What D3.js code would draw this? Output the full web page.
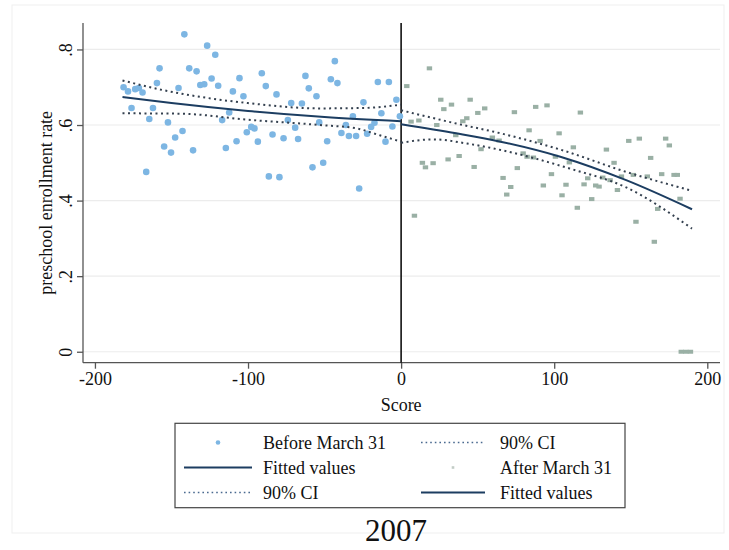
<!DOCTYPE html>
<html><head><meta charset="utf-8">
<script src="https://cdnjs.cloudflare.com/ajax/libs/d3/7.8.5/d3.min.js"></script>
<style>
html,body{margin:0;padding:0;background:#fff;}
svg{display:block;font-family:"Liberation Serif","Times New Roman",serif;}
</style></head>
<body><svg id="chart" width="729" height="550"></svg>
<script>
const beforeX = [-181.3,-178.4,-173.7,-171.3,-168.9,-176.1,-162.1,-164.5,-166.5,-159.5,-157.8,-154.8,-152.3,-150.3,-147.6,-145.4,-142.8,-141.6,-138.4,-135.9,-133.6,-131.2,-128.6,-126.7,-123.8,-121.4,-119.5,-116.9,-114.5,-112.3,-109.9,-107.5,-105.6,-103.0,-100.8,-97.9,-95.8,-93.6,-91.0,-88.4,-86.4,-84.0,-81.4,-79.5,-76.8,-74.0,-71.8,-69.2,-67.3,-64.8,-62.5,-60.3,-57.9,-55.3,-53.5,-50.9,-48.3,-45.9,-43.3,-41.6,-39.0,-36.1,-34.1,-31.5,-29.4,-27.4,-24.6,-22.2,-19.6,-17.4,-15.2,-12.9,-10.2,-8.0,-5.7,-3.1,-0.8];
const beforeY = [0.700,0.689,0.695,0.698,0.686,0.645,0.645,0.616,0.476,0.711,0.750,0.543,0.607,0.527,0.567,0.698,0.584,0.840,0.750,0.533,0.742,0.706,0.708,0.810,0.723,0.786,0.704,0.613,0.539,0.633,0.689,0.557,0.724,0.676,0.581,0.595,0.591,0.556,0.737,0.703,0.464,0.575,0.681,0.462,0.565,0.613,0.658,0.593,0.563,0.657,0.730,0.697,0.488,0.676,0.607,0.500,0.557,0.721,0.769,0.711,0.579,0.600,0.571,0.623,0.571,0.432,0.660,0.577,0.595,0.606,0.714,0.631,0.556,0.714,0.596,0.667,0.623];

const afterX = [3.7,6.5,8.7,11.6,13.9,15.9,18.5,20.9,23.3,25.9,27.9,30.7,32.9,35.7,37.9,40.3,42.9,45.1,47.7,50.1,52.2,54.6,59.6,64.0,66.6,69.0,71.6,74.0,75.9,79.7,82.3,83.6,86.4,87.9,90.8,92.9,95.3,98.2,100.8,103.2,105.1,107.7,109.9,112.5,115.1,117.1,119.5,121.9,124.5,127.1,129.3,131.7,134.1,136.5,139.1,141.3,143.9,148.7,151.7,153.4,155.6,160.8,163.0,165.4,167.6,170.2,172.8,175.2,178.3,180.4,182.2,183.0,186.0,189.0];
const afterY = [0.703,0.609,0.360,0.612,0.500,0.488,0.750,0.499,0.600,0.667,0.642,0.509,0.654,0.573,0.518,0.610,0.618,0.667,0.489,0.632,0.536,0.644,0.567,0.559,0.460,0.416,0.436,0.634,0.486,0.525,0.516,0.586,0.514,0.648,0.558,0.440,0.652,0.470,0.516,0.578,0.414,0.442,0.501,0.541,0.381,0.633,0.443,0.459,0.404,0.440,0.437,0.461,0.535,0.454,0.500,0.428,0.464,0.558,0.468,0.344,0.564,0.464,0.513,0.291,0.378,0.470,0.564,0.546,0.468,0.468,0.405,0.000,0.000,0.000];

const fitLeftX  = [-182,-150,-100,-50,0];
const fitLeftY  = [0.674,0.658,0.637,0.621,0.610];
const ciLeftUpX = [-182,-155,-122,-100,-53,-25,0];
const ciLeftUpY = [0.718,0.692,0.669,0.658,0.644,0.645,0.654];
const ciLeftLoX = [-182,-144,-100,-53,-29,-14,0];
const ciLeftLoY = [0.631,0.630,0.614,0.600,0.591,0.573,0.556];

const fitRightX  = [0,36,65,104,147,190];
const fitRightY  = [0.602,0.578,0.556,0.516,0.454,0.377];
const ciRightUpX = [0,36,65,104,147,190];
const ciRightUpY = [0.639,0.604,0.578,0.535,0.476,0.426];
const ciRightLoX = [0,21,43,65,110,147,190];
const ciRightLoY = [0.553,0.562,0.551,0.534,0.485,0.435,0.326];

const xTicks = [-200,-100,0,100,200];
const xTickLabels = ["-200","-100","0","100","200"];
const yTicks = [0,0.2,0.4,0.6,0.8];
const yTickLabels = ["0",".2",".4",".6",".8"];

const svg = d3.select("#chart");
const L = 83, R = 720, T = 23, B = 362.7;
const x = d3.scaleLinear().domain([-207.8, 208.3]).range([L, R]);
const y = d3.scaleLinear().domain([-0.029, 0.870]).range([B, T]);

const navy = "#1c3d61", dotCol = "#34404f", blue = "#7db6e3", green = "#9ab0a5";

// outer faint frame
svg.append("rect").attr("x",12).attr("y",5).attr("width",712).attr("height",528)
  .attr("fill","none").attr("stroke","#efefef").attr("stroke-width",1);

// gridlines
svg.append("g").selectAll("line").data(yTicks).join("line")
  .attr("x1",L).attr("x2",R).attr("y1",d=>y(d)).attr("y2",d=>y(d))
  .attr("stroke","#ececec").attr("stroke-width",1.2);

// axes
const xAxis = d3.axisBottom(x).tickValues(xTicks).tickSize(6).tickPadding(4).tickFormat((d,i)=>xTickLabels[i]);
const gx = svg.append("g").attr("transform",`translate(0,${B})`).call(xAxis);
gx.select(".domain").attr("stroke","#555").attr("stroke-width",1.3).attr("d",`M${L},0H${R}`);
gx.selectAll(".tick line").attr("stroke","#555").attr("stroke-width",1.3);
gx.selectAll("text").attr("font-size",18).attr("fill","#111").attr("font-family","Liberation Serif, serif");

const yAxis = d3.axisLeft(y).tickValues(yTicks).tickSize(6).tickFormat((d,i)=>yTickLabels[i]);
const gy = svg.append("g").attr("transform",`translate(${L},0)`).call(yAxis);
gy.select(".domain").attr("stroke","#555").attr("stroke-width",1.3).attr("d",`M0,${T}V${B}`);
gy.selectAll(".tick line").attr("stroke","#555").attr("stroke-width",1.3);
gy.selectAll("text").attr("font-size",18).attr("fill","#111").attr("font-family","Liberation Serif, serif")
  .attr("transform","rotate(-90)").attr("x",0).attr("y",-11).attr("dy",0).attr("text-anchor","middle");

svg.append("text").attr("transform",`translate(52,${(T+B)/2 + 10}) rotate(-90)`)
  .attr("text-anchor","middle").attr("font-size",18).attr("fill","#111")
  .text("preschool enrollment rate");
svg.append("text").attr("x",x(0)).attr("y",411).attr("text-anchor","middle")
  .attr("font-size",18).attr("fill","#111").text("Score");

// zero line
svg.append("line").attr("x1",x(0)).attr("x2",x(0)).attr("y1",T).attr("y2",B)
  .attr("stroke","#111").attr("stroke-width",1.6);

// points
svg.append("g").selectAll("circle").data(beforeX.map((d,i)=>[d,beforeY[i]])).join("circle")
  .attr("cx",d=>x(d[0])).attr("cy",d=>y(d[1])).attr("r",3.3).attr("fill",blue);
svg.append("g").selectAll("rect").data(afterX.map((d,i)=>[d,afterY[i]])).join("rect")
  .attr("x",d=>x(d[0])-2.7).attr("y",d=>y(d[1])-2).attr("width",5.4).attr("height",4)
  .attr("fill",green);

// fits
const line = d3.line().x(d=>x(d[0])).y(d=>y(d[1])).curve(d3.curveMonotoneX);
function drawLine(xs, ys, dotted){
  svg.append("path").datum(xs.map((d,i)=>[d,ys[i]])).attr("d",line).attr("fill","none")
    .attr("stroke", dotted?dotCol:navy).attr("stroke-width", 2)
    .attr("stroke-dasharray", dotted?"2,3.5":null);
}
drawLine(ciLeftUpX, ciLeftUpY, true);
drawLine(ciLeftLoX, ciLeftLoY, true);
drawLine(fitLeftX, fitLeftY, false);
drawLine(ciRightUpX, ciRightUpY, true);
drawLine(ciRightLoX, ciRightLoY, true);
drawLine(fitRightX, fitRightY, false);

// legend
const lg = svg.append("g");
lg.append("rect").attr("x",175).attr("y",423.3).attr("width",450).attr("height",84.4)
  .attr("fill","#fff").attr("stroke","#444").attr("stroke-width",1.2);
const rows = [442.5, 467.5, 492.5];
const items = [
  {col:0,row:0,type:"dot",label:"Before March 31"},
  {col:1,row:0,type:"dash",label:"90% CI"},
  {col:0,row:1,type:"line",label:"Fitted values"},
  {col:1,row:1,type:"sq",label:"After March 31"},
  {col:0,row:2,type:"dash",label:"90% CI"},
  {col:1,row:2,type:"line",label:"Fitted values"}
];
const cols = [{s0:184,s1:252,t:263},{s0:421,s1:485,t:500}];
items.forEach(it=>{
  const c = cols[it.col], yy = rows[it.row];
  if(it.type==="dot") lg.append("circle").attr("cx",(c.s0+c.s1)/2).attr("cy",yy).attr("r",2.3).attr("fill",blue);
  if(it.type==="sq") lg.append("rect").attr("x",(c.s0+c.s1)/2-1.3).attr("y",yy-1.3).attr("width",2.6).attr("height",2.6).attr("fill","#c2ccc6");
  if(it.type==="line") lg.append("line").attr("x1",c.s0).attr("x2",c.s1).attr("y1",yy).attr("y2",yy).attr("stroke",navy).attr("stroke-width",2);
  if(it.type==="dash") lg.append("line").attr("x1",c.s0).attr("x2",c.s1).attr("y1",yy).attr("y2",yy).attr("stroke","#4a6a90").attr("stroke-width",1.3).attr("stroke-dasharray","1.6,3");
  lg.append("text").attr("x",c.t).attr("y",yy+6).attr("font-size",18).attr("fill","#111").text(it.label);
});

svg.append("text").attr("x",396).attr("y",541).attr("text-anchor","middle")
  .attr("font-size",31).attr("fill","#111").text("2007");
</script></body></html>
